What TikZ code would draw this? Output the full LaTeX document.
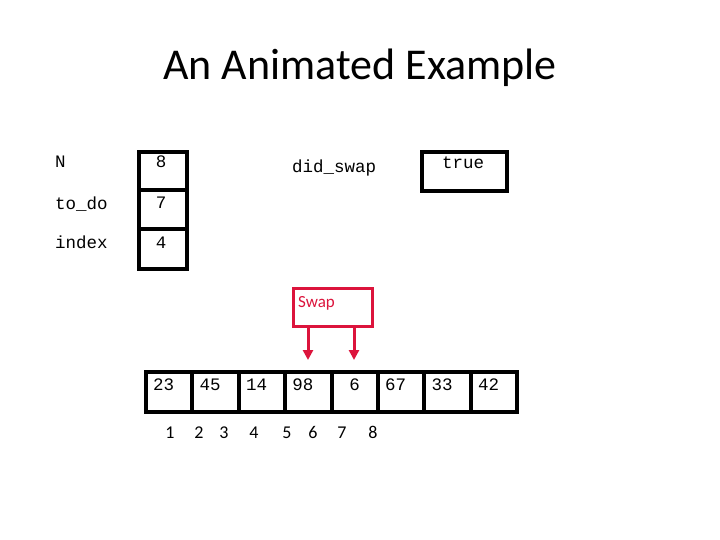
\documentclass[tikz,border=0pt]{standalone}
\usepackage{fontspec}
\setmainfont{Carlito}
\newfontfamily\monof{Liberation Mono}
\usetikzlibrary{arrows.meta}
\definecolor{swapred}{RGB}{220,20,60}
\begin{document}
\begin{tikzpicture}[x=1pt,y=-1pt,
  mono/.style={font=\monof\fontsize{17.5}{20}\selectfont, inner sep=0pt, anchor=base west},
  monoc/.style={font=\monof\fontsize{17.5}{20}\selectfont, inner sep=0pt, anchor=base},
  varbox/.style={draw, line width=3.8pt, inner sep=0pt, anchor=north west, minimum width=48pt},
  cellbox/.style={draw, line width=4pt, inner sep=0pt, anchor=north west, minimum width=46.4pt, minimum height=40pt},
  idx/.style={font=\fontsize{18}{20}\selectfont, inner sep=0pt, anchor=base},
  swapbox/.style={draw=swapred, line width=3pt, inner sep=0pt, anchor=north west, minimum width=79pt, minimum height=38pt},
  swaparrow/.style={draw=swapred, line width=3pt, -{Triangle[width=10pt,length=10pt]}}
]
\useasboundingbox (0,0) rectangle (720,540);
\fill[white] (0,0) rectangle (720,540);

% title
\node[font=\fontsize{44}{50}\selectfont, inner sep=0pt, anchor=base] (title) at (360,80) {An Animated Example};

% variables
\node[mono] (lN) at (55,168) {N};
\node[mono] (ltodo) at (55,210) {to\_do};
\node[mono] (lindex) at (55,248) {index};

\node[varbox, minimum height=38pt] (bN) at (137,150) {};
\node[varbox, minimum height=39pt] (btodo) at (137,188) {};
\node[varbox, minimum height=40pt] (bindex) at (137,227) {};
\node[monoc] (vN) at (161,168) {8};
\node[monoc] (vtodo) at (161,209) {7};
\node[monoc] (vindex) at (161,248) {4};

\node[mono] (ldidswap) at (292,173) {did\_swap};
\node[varbox, minimum width=85pt, minimum height=39pt] (bdidswap) at (420,150) {};
\node[monoc] (vdidswap) at (463,169) {true};

% swap box
\node[swapbox] (swap) at (292,287) {};
\node[font=\fontsize{17}{20}\selectfont, text=swapred, inner sep=0pt, anchor=base west] (swaplbl) at (298,307) {Swap};
\coordinate (a1) at (308,360);
\coordinate (a2) at (354,360);
\draw[swaparrow] (a1 |- swap.south) -- (a1);
\draw[swaparrow] (a2 |- swap.south) -- (a2);

% array
\foreach \i/\v in {1/23,2/45,3/14,4/98,5/{\phantom{0}6},6/67,7/33,8/42}{
  \node[cellbox] (c\i) at ({144+46.4*(\i-1)},370) {};
  \node[mono] (t\i) at ({144+46.4*(\i-1)+9},390) {\v};
}

% index labels
\foreach \k/\x in {1/170,2/199,3/224,4/254,5/287,6/313,7/342,8/373}{
  \node[idx] (n\k) at (\x,438) {\k};
}
\end{tikzpicture}
\end{document}
